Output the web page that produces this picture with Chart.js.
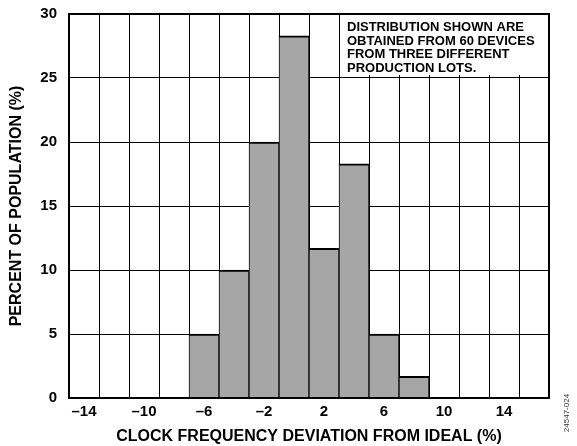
<!DOCTYPE html>
<html>
<head>
<meta charset="utf-8">
<script src="https://cdn.jsdelivr.net/npm/chart.js@4"></script>
<style>
  html, body { margin: 0; padding: 0; background: #fff; }
  canvas { display: block; }
</style>
</head>
<body>
<canvas id="chart" width="577" height="446"></canvas>
<script>
// bin centres, % clock frequency deviation (2% wide bins)
const binCenters = ['–14', '–12', '–10', '–8', '–6', '–4', '–2', '0', '2', '4', '6', '8', '10', '12', '14', '16'];
// percent of population per bin (60 devices)
const percents = [null, null, null, null, 5, 10, 20, 28.3, 11.7, 18.3, 5, 1.7, null, null, null, null];
const yTicks = [0, 5, 10, 15, 20, 25, 30];
const noteLines = [
  'DISTRIBUTION SHOWN ARE',
  'OBTAINED FROM 60 DEVICES',
  'FROM THREE DIFFERENT',
  'PRODUCTION LOTS.'
];
const figureId = '24547-024';

const FONT = "Arial, 'Liberation Sans', Helvetica, sans-serif";

// white note box in the upper right, frame and figure id
const notePlugin = {
  id: 'note',
  afterDatasetsDraw(chart) {
    const { ctx, chartArea, scales } = chart;
    const x = scales.x, y = scales.y;
    const boxLeft = x.getPixelForValue(8.5);
    const boxBottom = y.getPixelForValue(25) - 3;
    ctx.save();
    ctx.fillStyle = '#fff';
    ctx.fillRect(boxLeft + 1, chartArea.top + 1, chartArea.right - boxLeft - 2, boxBottom - chartArea.top - 1);
    ctx.fillStyle = '#000';
    ctx.font = 'bold 13px ' + FONT;
    ctx.textBaseline = 'alphabetic';
    ctx.textAlign = 'left';
    noteLines.forEach((line, i) => {
      ctx.fillText(line, boxLeft + 8, chartArea.top + 17 + i * 13.5);
    });
    ctx.restore();
  },
  afterDraw(chart) {
    const { ctx, chartArea } = chart;
    ctx.save();
    ctx.strokeStyle = '#000';
    ctx.lineWidth = 2;
    ctx.strokeRect(chartArea.left, chartArea.top, chartArea.right - chartArea.left, chartArea.bottom - chartArea.top);
    ctx.translate(567, 413);
    ctx.rotate(-Math.PI / 2);
    ctx.fillStyle = '#333';
    ctx.font = '8px ' + FONT;
    ctx.textAlign = 'center';
    ctx.textBaseline = 'middle';
    ctx.fillText(figureId, 0, 0);
    ctx.restore();
  }
};

new Chart(document.getElementById('chart'), {
  type: 'bar',
  data: {
    labels: binCenters,
    datasets: [{
      data: percents,
      backgroundColor: '#a6a6a6',
      borderColor: '#000',
      borderWidth: { top: 2, left: 1, right: 1, bottom: 0 },
      borderSkipped: false,
      barPercentage: 1,
      categoryPercentage: 1
    }]
  },
  options: {
    responsive: false,
    devicePixelRatio: 1,
    animation: false,
    layout: { padding: { left: 7, top: 14, right: 28, bottom: 0 } },
    plugins: {
      legend: { display: false },
      tooltip: { enabled: false }
    },
    scales: {
      x: {
        grid: { color: '#000', lineWidth: 1, drawTicks: false, offset: true },
        border: { color: '#000', width: 2 },
        ticks: {
          color: '#000',
          font: { family: FONT, size: 15, weight: 'bold' },
          padding: 5,
          autoSkip: false,
          maxRotation: 0,
          callback: (v, i) => (i % 2 === 0 && i < binCenters.length - 1) ? binCenters[i] : ''
        },
        title: {
          display: true,
          text: 'CLOCK FREQUENCY DEVIATION FROM IDEAL (%)',
          color: '#000',
          font: { family: FONT, size: 16, weight: 'bold' },
          padding: 0
        },
        afterFit: (s) => { s.height = 48; }
      },
      y: {
        min: 0,
        max: 30,
        grid: { color: '#000', lineWidth: 1, drawTicks: false },
        border: { color: '#000', width: 2 },
        afterBuildTicks: (s) => { s.ticks = yTicks.map(v => ({ value: v })); },
        ticks: {
          color: '#000',
          font: { family: FONT, size: 15, weight: 'bold' },
          padding: 12
        },
        title: {
          display: true,
          text: 'PERCENT OF POPULATION (%)',
          color: '#000',
          font: { family: FONT, size: 16, weight: 'bold' },
          padding: 0
        },
        afterFit: (s) => {
          s.width = 62;
          s.paddingTop = 0;
          s.paddingBottom = 0;
        }
      }
    }
  },
  plugins: [notePlugin]
});
</script>
</body>
</html>
